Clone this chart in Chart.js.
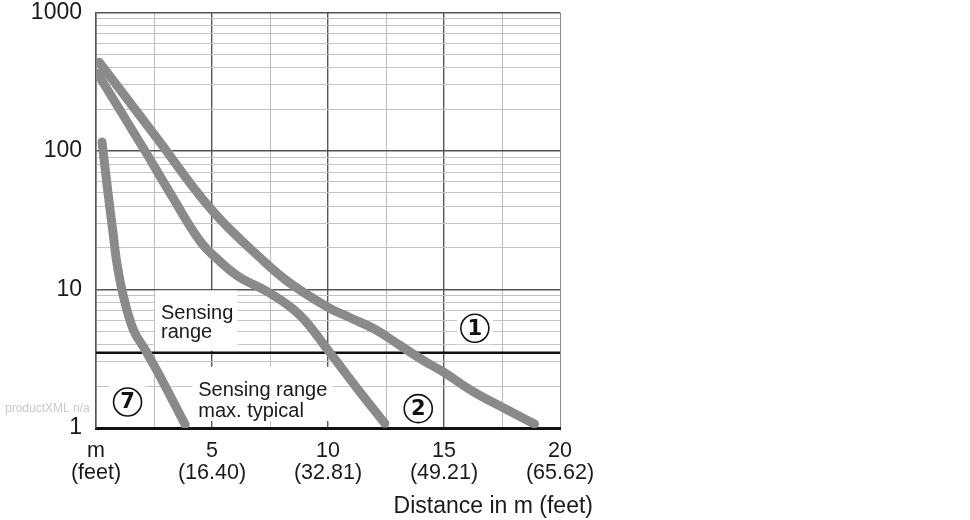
<!DOCTYPE html>
<html>
<head>
<meta charset="utf-8">
<script src="https://cdn.jsdelivr.net/npm/chart.js@4"></script>
<style>
  html, body { margin: 0; padding: 0; background: #fff; }
  #wrap { width: 970px; height: 520px; }
</style>
</head>
<body>
<div id="wrap"><canvas id="rangeChart" width="970" height="520"></canvas></div>
<script>
// grid positions and labels
const xTicks = [0, 2.5, 5, 7.5, 10, 12.5, 15, 17.5, 20];
const xLabelValues = [0, 5, 10, 15, 20];
const xLabelsMeters = ["m", "5", "10", "15", "20"];
const xLabelsFeet = ["(feet)", "(16.40)", "(32.81)", "(49.21)", "(65.62)"];
const yTicks = [1, 2, 3, 4, 5, 6, 7, 8, 9, 10, 20, 30, 40, 50, 60, 70, 80, 90,
  100, 200, 300, 400, 500, 600, 700, 800, 900, 1000];
const yLabelValues = [1, 10, 100, 1000];

// curves (distance in m, value)
const curve1X = [0.14, 2.5, 5, 7.29, 8.37, 10, 11, 12.02, 13.1, 14.1, 15, 16.24, 17.7, 18.9];
const curve1Y = [437, 132, 37.3, 15.7, 11.1, 7.44, 6.2, 5.16, 3.95, 3.08, 2.52, 1.84, 1.36, 1.07];
const curve2X = [0.06, 2.12, 3.28, 4.49, 5.35, 6.21, 7.5, 8.79, 10, 11.25, 12.45];
const curve2Y = [364, 99.6, 47, 22.3, 15.9, 12.2, 9.4, 6.52, 3.64, 1.94, 1.08];
const curve7X = [0.26, 0.54, 0.72, 0.9, 1.19, 1.62, 2.12, 2.85, 3.84];
const curve7Y = [116, 46.3, 26.8, 15.5, 8.8, 5.08, 3.67, 2.21, 1.06];
const sensingLimit = 3.5;

const FONT = "'Liberation Sans', Arial, sans-serif";
const CURVE_GRAY = "#8a8a8a";

const toPoints = (xs, ys) => xs.map((x, i) => ({ x: x, y: ys[i] }));

function curve(xs, ys) {
  return {
    data: toPoints(xs, ys),
    borderColor: CURVE_GRAY,
    borderWidth: 9,
    borderCapStyle: "round",
    borderJoinStyle: "round",
    tension: 0.4,
    pointRadius: 0,
    fill: false,
  };
}

// text labels, white boxes and circled numbers
const annotations = {
  id: "annotations",
  beforeDatasetsDraw(chart) {
    const ctx = chart.ctx;
    const xs = chart.scales.x;
    const ys = chart.scales.y;
    ctx.save();

    // "Sensing range" above the limit line
    let left = xs.getPixelForValue(2.5) + 1;
    let top = ys.getPixelForValue(10) + 1;
    ctx.fillStyle = "#fff";
    ctx.fillRect(left, top, xs.getPixelForValue(6.1) - left, ys.getPixelForValue(sensingLimit) - 2 - top);
    ctx.fillStyle = "#1a1a1a";
    ctx.font = "20px " + FONT;
    ctx.textAlign = "left";
    ctx.textBaseline = "alphabetic";
    ctx.fillText("Sensing", left + 6, top + 28);
    ctx.fillText("range", left + 6, top + 47);

    // "Sensing range max. typical" below it
    left = xs.getPixelForValue(4.15);
    top = ys.getPixelForValue(sensingLimit) + 14;
    ctx.fillStyle = "#fff";
    ctx.fillRect(left, top, xs.getPixelForValue(10.2) - left, ys.getPixelForValue(1) - 7 - top);
    ctx.fillStyle = "#1a1a1a";
    ctx.fillText("Sensing range", left + 6, top + 29);
    ctx.fillText("max. typical", left + 6, top + 50);

    // circled curve numbers
    const marks = [["1", 16.33, 5.25], ["2", 13.89, 1.38], ["7", 1.36, 1.54]];
    marks.forEach(([txt, mx, my]) => {
      const cx = xs.getPixelForValue(mx);
      const cy = ys.getPixelForValue(my);
      ctx.fillStyle = "#fff";
      ctx.fillRect(cx - 18, cy - 16, 36, 32);
      ctx.beginPath();
      ctx.arc(cx, cy, 14, 0, Math.PI * 2);
      ctx.lineWidth = 1.6;
      ctx.strokeStyle = "#111";
      ctx.stroke();
      ctx.fillStyle = "#111";
      ctx.font = "bold 21px 'DejaVu Sans', sans-serif";
      ctx.textAlign = "center";
      ctx.textBaseline = "middle";
      ctx.fillText(txt, cx, cy + 1);
    });
    ctx.restore();
  },
  afterDraw(chart) {
    const ctx = chart.ctx;
    const area = chart.chartArea;
    ctx.save();
    ctx.fillStyle = "#1a1a1a";
    ctx.font = "23px " + FONT;
    ctx.textAlign = "right";
    ctx.textBaseline = "alphabetic";
    ctx.fillText("Distance in m (feet)", area.right + 33, 513);

    ctx.fillStyle = "#c8c8c8";
    ctx.font = "12px " + FONT;
    ctx.textAlign = "left";
    ctx.fillText("productXML n/a", 5, 412);
    ctx.restore();
  },
};

new Chart(document.getElementById("rangeChart"), {
  type: "line",
  data: {
    datasets: [
      curve(curve1X, curve1Y),
      curve(curve2X, curve2Y),
      curve(curve7X, curve7Y),
      {
        data: [{ x: 0, y: sensingLimit }, { x: 20, y: sensingLimit }],
        borderColor: "#111",
        borderWidth: 2.5,
        pointRadius: 0,
        fill: false,
      },
    ],
  },
  options: {
    responsive: false,
    devicePixelRatio: 1,
    animation: false,
    layout: { padding: { left: 0, right: 410, top: 12.5, bottom: 0 } },
    plugins: { legend: { display: false }, tooltip: { enabled: false } },
    scales: {
      x: {
        type: "linear",
        min: 0,
        max: 20,
        afterBuildTicks: (s) => { s.ticks = xTicks.map((v) => ({ value: v })); },
        afterFit: (s) => { s.height = 92; s.paddingLeft = 0; s.paddingRight = 0; },
        grid: {
          drawTicks: false,
          color: (c) => {
            const v = c.tick && c.tick.value;
            if (v === 20) return "#8a8a8a";
            return [5, 10, 15].includes(v) ? "#555" : "#bdbdbd";
          },
          lineWidth: (c) => ([5, 10, 15].includes(c.tick && c.tick.value) ? 1.4 : 1),
        },
        border: { color: "#111", width: 3 },
        ticks: {
          autoSkip: false,
          maxRotation: 0,
          padding: 12,
          color: "#1a1a1a",
          font: { family: FONT, size: 21.5, lineHeight: 1.03 },
          callback: (v) => {
            const i = xLabelValues.indexOf(v);
            return i < 0 ? "" : [xLabelsMeters[i], xLabelsFeet[i]];
          },
        },
      },
      y: {
        type: "logarithmic",
        min: 1,
        max: 1000,
        afterBuildTicks: (s) => { s.ticks = yTicks.map((v) => ({ value: v })); },
        afterFit: (s) => { s.width = 96; s.paddingTop = 0; s.paddingBottom = 0; },
        grid: {
          drawTicks: false,
          color: (c) => (yLabelValues.includes(c.tick && c.tick.value) ? "#555" : "#c4c4c4"),
          lineWidth: (c) => (yLabelValues.includes(c.tick && c.tick.value) ? 1.4 : 1),
        },
        border: { color: "#555", width: 1.5 },
        ticks: {
          autoSkip: false,
          padding: 14,
          color: "#1a1a1a",
          font: { family: FONT, size: 23 },
          callback: (v) => (yLabelValues.includes(v) ? String(v) : ""),
        },
      },
    },
  },
  plugins: [annotations],
});
</script>
</body>
</html>
